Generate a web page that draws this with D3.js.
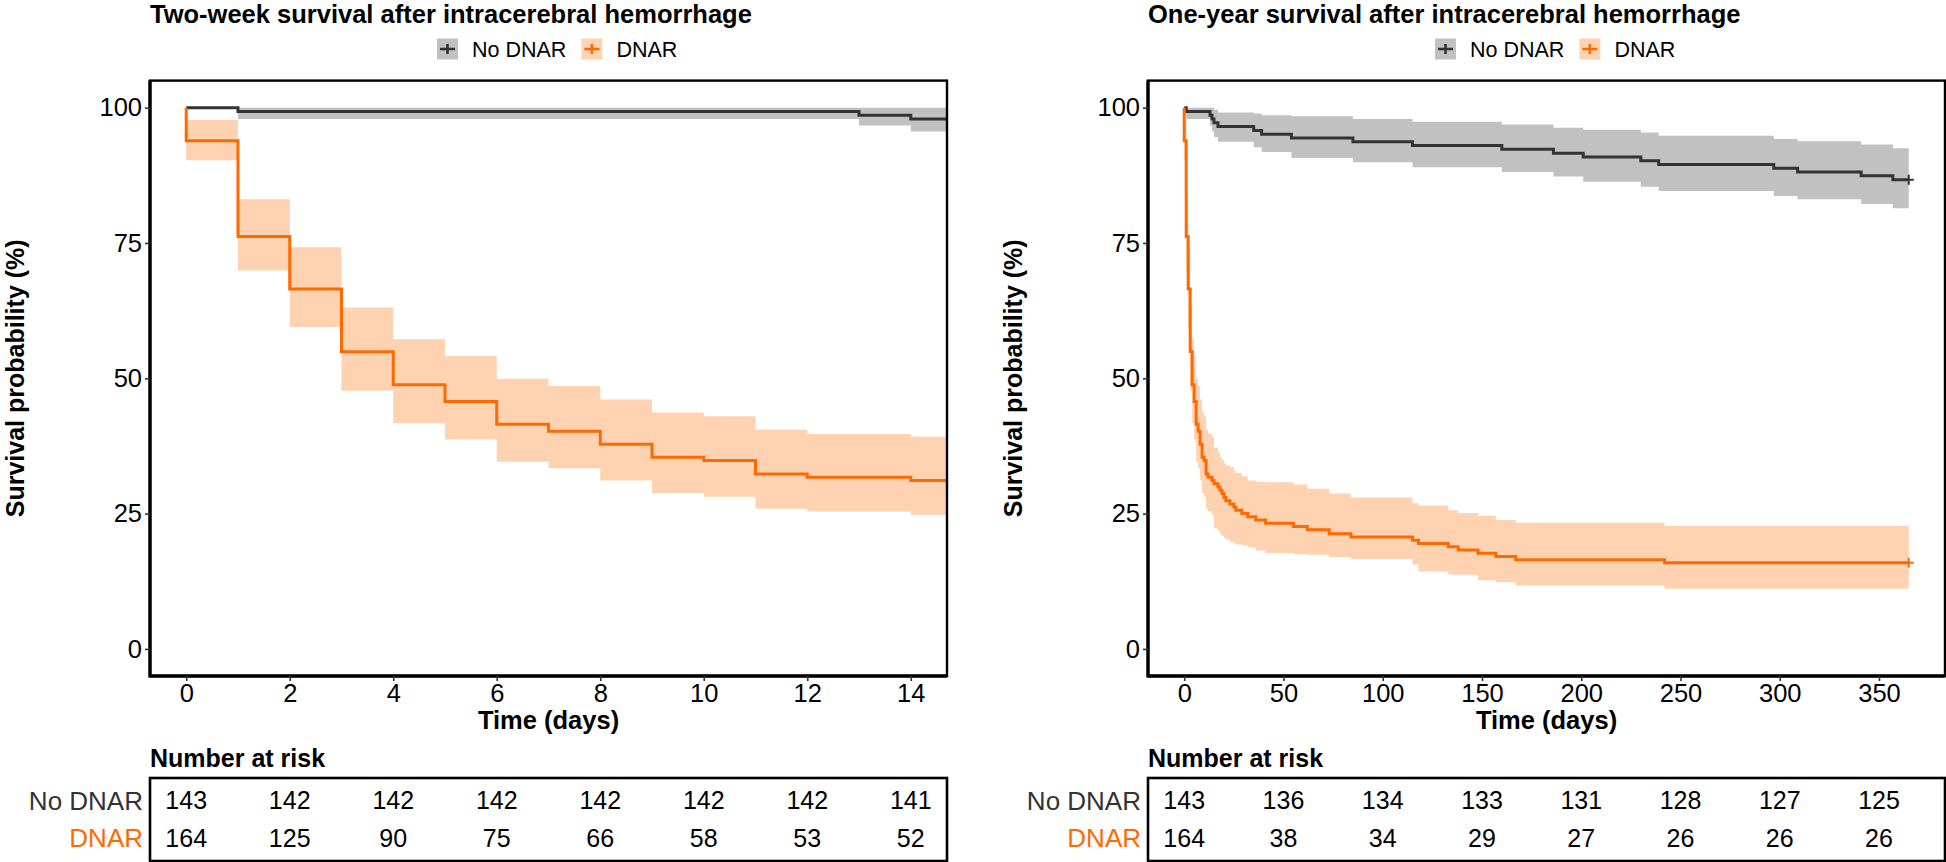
<!DOCTYPE html>
<html><head><meta charset="utf-8">
<script src="https://cdn.jsdelivr.net/npm/d3@7"></script>
<style>
body{margin:0;background:#fff}
text{font-family:"Liberation Sans",Arial,Helvetica,sans-serif}
</style>
</head><body>
<svg id="chart" width="1946" height="862"></svg>
<script>
// ---------------- data ----------------
const groups = ["No DNAR", "DNAR"];
const groupColors = ["#333333", "#FF6A00"];
const panelTitles = ["Two-week survival after intracerebral hemorrhage", "One-year survival after intracerebral hemorrhage"];
const yTitle = "Survival probability (%)";
const xTitle = "Time (days)";
const yTicks = [0, 25, 50, 75, 100];
const xTicksShort = [0, 2, 4, 6, 8, 10, 12, 14];
const xTicksLong = [0, 50, 100, 150, 200, 250, 300, 350];
const followUpEnd = 365;

// Kaplan-Meier steps (time in days, survival %), with confidence limits
const noDnarTime  = [0, 0, 1, 13, 14, 15, 17, 35, 39, 54, 85, 115, 160, 186, 201, 230, 239, 297, 309, 341, 357];
const noDnarSurv  = [100, 100, 99.3, 98.6, 97.9, 97.2, 96.5, 95.8, 95.1, 94.4, 93.7, 93.0, 92.3, 91.6, 90.9, 90.2, 89.5, 88.8, 88.1, 87.4, 86.7];
const noDnarUpper = [100, 100, 100, 100, 100, 99.6, 99.1, 98.9, 98.6, 98.4, 97.9, 97.4, 96.9, 96.3, 95.9, 95.4, 94.8, 94.2, 93.8, 93.2, 92.5];
const noDnarLower = [100, 100, 97.9, 96.7, 95.6, 94.6, 93.7, 92.7, 91.8, 90.7, 89.9, 89.0, 88.1, 87.3, 86.3, 85.4, 84.6, 83.7, 83.1, 82.2, 81.4];

const dnarTime  = [0, 0, 1, 2, 3, 4, 5, 6, 7, 8, 9, 10, 11, 12, 14, 15, 17, 18, 19, 20, 21, 23, 25, 26, 29, 32, 36, 41, 55, 62, 73, 84, 115, 118, 133, 138, 148, 157, 167, 242];
const dnarSurv  = [100, 93.9, 76.2, 66.5, 54.9, 48.8, 45.7, 41.5, 40.2, 37.8, 35.4, 34.8, 32.3, 31.7, 31.1, 30.5, 29.9, 29.3, 28.7, 28.0, 27.4, 26.8, 26.2, 25.6, 25.0, 24.4, 23.8, 23.2, 22.6, 22.0, 21.3, 20.7, 20.1, 19.5, 18.9, 18.3, 17.7, 17.1, 16.5, 15.9];
const dnarUpper = [100, 97.7, 83.1, 74.2, 63.1, 57.2, 54.1, 49.9, 48.6, 46.1, 43.7, 43.0, 40.5, 39.7, 39.2, 37.2, 36.3, 35.4, 34.9, 34.3, 33.9, 33.6, 32.9, 32.5, 31.9, 31.1, 30.9, 30.8, 30.4, 29.6, 28.7, 28.0, 26.9, 26.5, 25.6, 25.1, 24.6, 23.8, 23.3, 22.7];
const dnarLower = [100, 90.3, 69.9, 59.5, 47.7, 41.7, 38.7, 34.6, 33.4, 31.1, 28.8, 28.1, 25.9, 25.4, 24.8, 22.3, 21.9, 21.2, 20.9, 20.5, 20.2, 19.8, 19.5, 19.3, 19.1, 18.8, 18.2, 17.7, 17.5, 17.4, 17.0, 16.6, 15.6, 14.3, 13.7, 13.7, 12.7, 12.3, 11.7, 11.1];

// Number at risk
const riskShortNoDnar = [143, 142, 142, 142, 142, 142, 142, 141];
const riskShortDnar   = [164, 125, 90, 75, 66, 58, 53, 52];
const riskLongNoDnar  = [143, 136, 134, 133, 131, 128, 127, 125];
const riskLongDnar    = [164, 38, 34, 29, 27, 26, 26, 26];

// ---------------- drawing ----------------
const svg = d3.select("#chart");
svg.append("rect").attr("width", 1946).attr("height", 862).attr("fill", "#fff");

const series = [
  {name: groups[0], color: groupColors[0], time: noDnarTime, surv: noDnarSurv, upper: noDnarUpper, lower: noDnarLower},
  {name: groups[1], color: groupColors[1], time: dnarTime, surv: dnarSurv, upper: dnarUpper, lower: dnarLower}
];

const panels = [
  {title: panelTitles[0], left: 150, right: 947, xDomain: [-0.7, 14.7], ticks: xTicksShort, risk: [riskShortNoDnar, riskShortDnar]},
  {title: panelTitles[1], left: 1148, right: 1945, xDomain: [-18.25, 383.25], ticks: xTicksLong, risk: [riskLongNoDnar, riskLongDnar]}
];

const TOP = 80.6, BOTTOM = 676;
const y = d3.scaleLinear().domain([-5, 105]).range([BOTTOM, TOP]);
const FONT = '"Liberation Sans",Arial,sans-serif';

panels.forEach((p, pi) => {
  const x = d3.scaleLinear().domain(p.xDomain).range([p.left, p.right]);
  const g = svg.append("g");
  const clipId = "clip" + pi;
  svg.append("defs").append("clipPath").attr("id", clipId)
    .append("rect").attr("x", p.left).attr("y", TOP).attr("width", p.right - p.left).attr("height", BOTTOM - TOP);

  const plot = g.append("g").attr("clip-path", `url(#${clipId})`);

  series.forEach(s => {
    const pts = s.time.map((t, i) => ({t, s: s.surv[i], hi: s.upper[i], lo: s.lower[i]}));
    const last = pts[pts.length - 1];
    pts.push({t: followUpEnd, s: last.s, hi: last.hi, lo: last.lo});
    const area = d3.area().curve(d3.curveStepAfter)
      .x(d => x(d.t)).y0(d => y(d.lo)).y1(d => y(d.hi));
    plot.append("path").attr("d", area(pts)).attr("fill", s.color).attr("fill-opacity", 0.3).attr("stroke", "none");
  });
  series.forEach(s => {
    const pts = s.time.map((t, i) => ({t, s: s.surv[i]}));
    pts.push({t: followUpEnd, s: s.surv[s.surv.length - 1]});
    const line = d3.line().curve(d3.curveStepAfter).x(d => x(d.t)).y(d => y(d.s));
    plot.append("path").attr("d", line(pts)).attr("fill", "none").attr("stroke", s.color).attr("stroke-width", 3);
    const cx = x(followUpEnd), cy = y(s.surv[s.surv.length - 1]);
    plot.append("path").attr("d", `M${cx - 5},${cy}H${cx + 5}M${cx},${cy - 5}V${cy + 5}`)
      .attr("stroke", s.color).attr("stroke-width", 2);
  });

  // panel border
  g.append("rect").attr("x", p.left).attr("y", TOP).attr("width", p.right - p.left).attr("height", BOTTOM - TOP)
    .attr("fill", "none").attr("stroke", "#000").attr("stroke-width", 2.4);
  g.append("line").attr("x1", p.left).attr("x2", p.right).attr("y1", BOTTOM).attr("y2", BOTTOM).attr("stroke", "#000").attr("stroke-width", 3.4);
  g.append("line").attr("x1", p.left).attr("x2", p.left).attr("y1", TOP).attr("y2", BOTTOM + 1.5).attr("stroke", "#000").attr("stroke-width", 3.4);

  // axes
  const xAxis = g.append("g").attr("transform", `translate(0,${BOTTOM})`)
    .call(d3.axisBottom(x).tickValues(p.ticks).tickSize(5).tickPadding(3));
  xAxis.select(".domain").remove();
  xAxis.selectAll("line").attr("stroke", "#333").attr("stroke-width", 1.6);
  xAxis.selectAll("text").attr("font-size", 25.5).attr("fill", "#000").style("font-family", FONT);

  const yAxis = g.append("g").attr("transform", `translate(${p.left},0)`)
    .call(d3.axisLeft(y).tickValues(yTicks).tickSize(5).tickPadding(3));
  yAxis.select(".domain").remove();
  yAxis.selectAll("line").attr("stroke", "#333").attr("stroke-width", 1.6);
  yAxis.selectAll("text").attr("font-size", 25.5).attr("fill", "#000").style("font-family", FONT);

  // titles
  g.append("text").attr("x", p.left).attr("y", 23).attr("font-size", 25.5).attr("font-weight", "bold").text(p.title);
  g.append("text").attr("transform", `translate(${p.left - 126},${(TOP + BOTTOM) / 2}) rotate(-90)`)
    .attr("text-anchor", "middle").attr("font-size", 25).attr("font-weight", "bold").text(yTitle);
  g.append("text").attr("x", (p.left + p.right) / 2).attr("y", 729).attr("text-anchor", "middle")
    .attr("font-size", 25.5).attr("font-weight", "bold").text(xTitle);

  // legend
  const leg = g.append("g");
  let lx = p.left + 287;
  const ly = 49;
  series.forEach((s, i) => {
    leg.append("rect").attr("x", lx).attr("y", ly - 10.5).attr("width", 21).attr("height", 21)
      .attr("fill", s.color).attr("fill-opacity", 0.3);
    leg.append("path").attr("d", `M${lx + 3},${ly}H${lx + 18}M${lx + 10.5},${ly - 5}V${ly + 5}`)
      .attr("stroke", s.color).attr("stroke-width", 2.6);
    const t = leg.append("text").attr("x", lx + 35).attr("y", ly).attr("dy", "0.35em")
      .attr("font-size", 21.5).attr("fill", "#000").text(s.name);
    lx = lx + 35 + t.node().getComputedTextLength() + 15;
  });

  // risk table
  g.append("text").attr("x", p.left).attr("y", 767).attr("font-size", 25).attr("font-weight", "bold").text("Number at risk");
  const ty = d3.scalePoint().domain(groups).range([778, 861]).padding(0.6);
  g.append("rect").attr("x", p.left).attr("y", 778).attr("width", p.right - p.left).attr("height", 861 - 778)
    .attr("fill", "none").attr("stroke", "#000").attr("stroke-width", 2.6);
  groups.forEach((grp, gi) => {
    g.append("text").attr("x", p.left - 7).attr("y", ty(grp)).attr("dy", "0.35em").attr("text-anchor", "end")
      .attr("font-size", 26).attr("fill", groupColors[gi]).text(grp);
    p.risk[gi].forEach((v, k) => {
      g.append("text").attr("x", x(p.ticks[k])).attr("y", ty(grp)).attr("dy", "0.35em").attr("text-anchor", "middle")
        .attr("font-size", 25).attr("fill", "#000").text(v);
    });
  });
});
</script>
</body></html>
